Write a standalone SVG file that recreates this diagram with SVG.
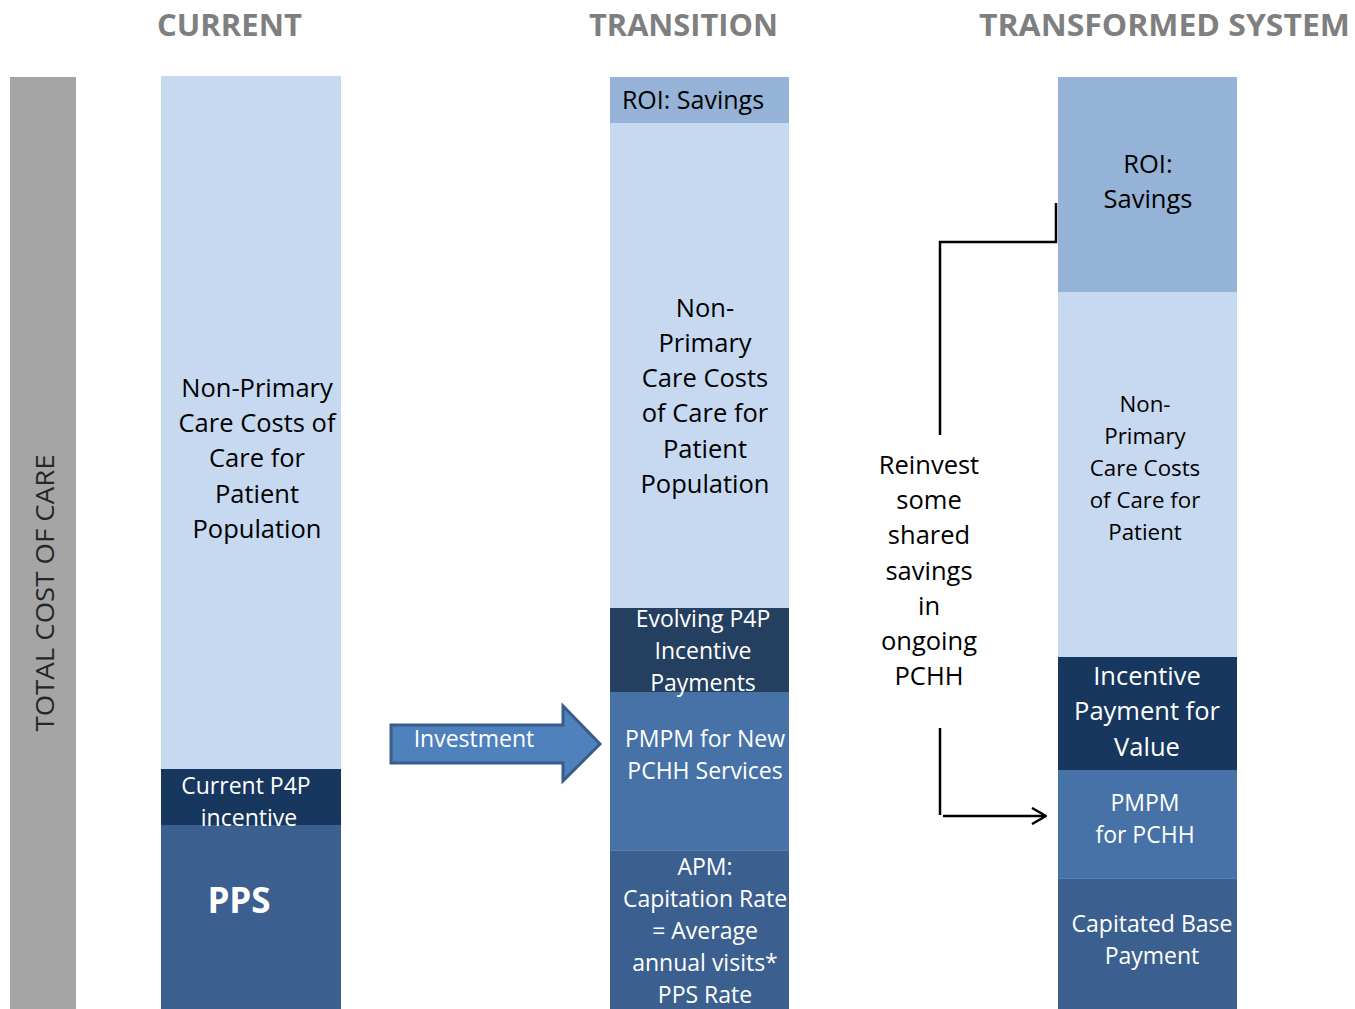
<svg xmlns="http://www.w3.org/2000/svg" width="1355" height="1009" viewBox="0 0 1355 1009">
<defs>
<style>
.hdr{font-family:"Open Sans","Liberation Sans",sans-serif;font-weight:bold;font-size:31px;fill:#7F7F7F;}
.t{font-family:"Open Sans","Liberation Sans",sans-serif;font-size:23px;text-anchor:middle;}
.L{font-family:"Open Sans","Liberation Sans",sans-serif;font-size:25.5px;text-anchor:middle;}
.s{font-family:"Open Sans","Liberation Sans",sans-serif;font-size:22.3px;text-anchor:middle;}
.dk{fill:#000000;}
.wt{fill:#FFFFFF;}
.light{fill:#C6D9F1;}
.roi{fill:#95B3D7;}
.navy{fill:#17375E;}
.navy2{fill:#243F60;}
.mid{fill:#4672A8;}
.base{fill:#3B5F8F;}
.conn{fill:none;stroke:#000;stroke-width:2.5;}
</style>
<marker id="open" viewBox="0 0 16 18" refX="15" refY="9" markerWidth="16" markerHeight="18" markerUnits="userSpaceOnUse" orient="auto">
<path d="M1,1 L15,9 L1,17" fill="none" stroke="#000" stroke-width="2.5"/>
</marker>
</defs>
<rect width="1355" height="1009" fill="#FFFFFF"/>

<g id="headers">
<text class="hdr" x="157" y="36" textLength="145" lengthAdjust="spacingAndGlyphs">CURRENT</text>
<text class="hdr" x="589" y="36" textLength="189" lengthAdjust="spacingAndGlyphs">TRANSITION</text>
<text class="hdr" x="979" y="36" textLength="371" lengthAdjust="spacingAndGlyphs">TRANSFORMED SYSTEM</text>
</g>

<g id="total-cost">
<rect x="10" y="77" width="66" height="932" fill="#A5A5A5"/>
<text transform="translate(54,593) rotate(-90)" font-family="'Open Sans','Liberation Sans',sans-serif" font-size="25" fill="#262626" text-anchor="middle" textLength="277" lengthAdjust="spacingAndGlyphs">TOTAL COST OF CARE</text>
</g>

<g id="current-nonprimary">
<rect class="light" x="161" y="76" width="180" height="693"/>
<text class="L dk" x="257" y="397">Non-Primary</text>
<text class="L dk" x="257" y="432">Care Costs of</text>
<text class="L dk" x="257" y="467">Care for</text>
<text class="L dk" x="257" y="503">Patient</text>
<text class="L dk" x="257" y="538">Population</text>
</g>
<g id="current-p4p">
<rect class="navy" x="161" y="769" width="180" height="56"/>
</g>
<g id="current-pps">
<rect class="base" x="161" y="825" width="180" height="184"/>
<text font-family="'Open Sans','Liberation Sans',sans-serif" font-weight="bold" font-size="35" fill="#FFFFFF" text-anchor="middle" x="239" y="913">PPS</text>
</g>
<g id="current-p4p-label">
<text class="t wt" x="246" y="794">Current P4P</text>
<text class="t wt" x="249" y="826">incentive</text>
</g>

<g id="transition-roi">
<rect class="roi" x="610" y="77" width="179" height="46"/>
<text class="t dk" x="693" y="109" style="font-size:25px">ROI: Savings</text>
</g>
<g id="transition-nonprimary">
<rect class="light" x="610" y="123" width="179" height="485"/>
<text class="L dk" x="705" y="317">Non-</text>
<text class="L dk" x="705" y="352">Primary</text>
<text class="L dk" x="705" y="387">Care Costs</text>
<text class="L dk" x="705" y="422">of Care for</text>
<text class="L dk" x="705" y="458">Patient</text>
<text class="L dk" x="705" y="493">Population</text>
</g>
<g id="transition-p4p">
<rect class="navy2" x="610" y="608" width="179" height="84"/>
</g>
<g id="transition-pmpm">
<rect class="mid" x="610" y="692" width="179" height="158"/>
<text class="t wt" x="705" y="747">PMPM for New</text>
<text class="t wt" x="705" y="779">PCHH Services</text>
</g>
<g id="transition-p4p-label">
<text class="t wt" x="703" y="627">Evolving P4P</text>
<text class="t wt" x="703" y="659">Incentive</text>
<text class="t wt" x="703" y="691">Payments</text>
</g>
<g id="transition-apm">
<rect class="base" x="610" y="850" width="179" height="159"/>
<line x1="610" y1="850.5" x2="789" y2="850.5" stroke="#5A7FAE" stroke-width="1"/>
<text class="t wt" x="705" y="875">APM:</text>
<text class="t wt" x="705" y="907">Capitation Rate</text>
<text class="t wt" x="705" y="939">= Average</text>
<text class="t wt" x="705" y="971">annual visits*</text>
<text class="t wt" x="705" y="1003">PPS Rate</text>
</g>

<g id="investment">
<path d="M391,725 L563,725 L563,706 L600,744 L563,781 L563,763 L391,763 Z" fill="#4F81BD" stroke="#385D8A" stroke-width="3" stroke-linejoin="miter"/>
<text class="t wt" x="474" y="747">Investment</text>
</g>

<g id="transformed-roi">
<rect class="roi" x="1058" y="77" width="179" height="215"/>
<text class="L dk" x="1148" y="173">ROI:</text>
<text class="L dk" x="1148" y="208">Savings</text>
</g>
<g id="transformed-nonprimary">
<rect class="light" x="1058" y="292" width="179" height="365"/>
<text class="s dk" x="1145" y="412">Non-</text>
<text class="s dk" x="1145" y="444">Primary</text>
<text class="s dk" x="1145" y="476">Care Costs</text>
<text class="s dk" x="1145" y="508">of Care for</text>
<text class="s dk" x="1145" y="540">Patient</text>
</g>
<g id="transformed-incentive">
<rect class="navy" x="1058" y="657" width="179" height="113"/>
<text class="L wt" x="1147" y="685">Incentive</text>
<text class="L wt" x="1147" y="720">Payment for</text>
<text class="L wt" x="1147" y="756">Value</text>
</g>
<g id="transformed-pmpm">
<rect class="mid" x="1058" y="770" width="179" height="108"/>
<text class="t wt" x="1145" y="811">PMPM</text>
<text class="t wt" x="1145" y="843">for PCHH</text>
</g>
<g id="transformed-capitated">
<rect class="base" x="1058" y="878" width="179" height="131"/>
<line x1="1058" y1="878.5" x2="1237" y2="878.5" stroke="#5A7FAE" stroke-width="1"/>
<text class="t wt" x="1152" y="932">Capitated Base</text>
<text class="t wt" x="1152" y="964">Payment</text>
</g>

<g id="reinvest-label">
<text class="L dk" x="929" y="474">Reinvest</text>
<text class="L dk" x="929" y="509">some</text>
<text class="L dk" x="929" y="544">shared</text>
<text class="L dk" x="929" y="580">savings</text>
<text class="L dk" x="929" y="615">in</text>
<text class="L dk" x="929" y="650">ongoing</text>
<text class="L dk" x="929" y="685">PCHH</text>
</g>

<g id="connectors">
<polyline class="conn" points="1056,203 1056,242 940,242 940,435"/>
<line class="conn" x1="940" y1="728" x2="940" y2="815"/>
<line class="conn" x1="943" y1="816" x2="1046" y2="816" marker-end="url(#open)"/>
</g>
</svg>
